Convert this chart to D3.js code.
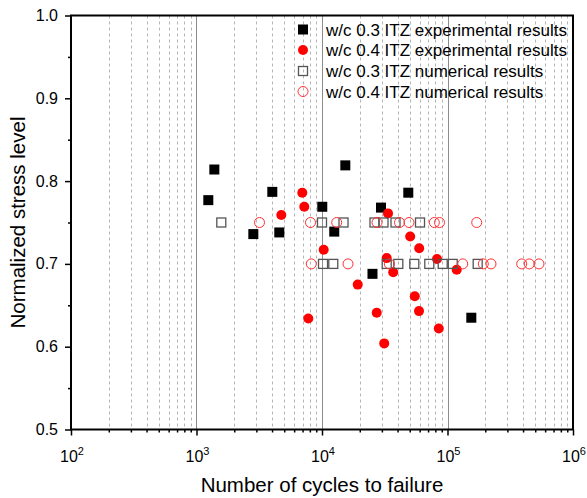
<!DOCTYPE html>
<html>
<head>
<meta charset="utf-8">
<script src="https://cdn.jsdelivr.net/npm/d3@7"></script>
<style>
  body { margin: 0; background: #fff; }
  svg { font-family: Arial, "Liberation Sans", sans-serif; }
</style>
</head>
<body>
<svg id="chart" width="587" height="498"></svg>
<script>
// ---- data ----
const seriesNames = [
  "w/c 0.3 ITZ experimental results",
  "w/c 0.4 ITZ experimental results",
  "w/c 0.3 ITZ numerical results",
  "w/c 0.4 ITZ numerical results"
];
const exp03Cycles = [1242, 1387, 2837, 4018, 4567, 10050, 12520, 15340, 25250, 29520, 48700, 154800];
const exp03Stress = [0.777, 0.814, 0.736, 0.787, 0.738, 0.769, 0.739, 0.819, 0.688, 0.768, 0.786, 0.635];
const exp04Cycles = [4740, 6966, 7227, 7776, 10316, 19260, 27290, 33570, 31310, 32780, 36930, 50440, 54880, 59500, 59290, 82480, 85250, 118400];
const exp04Stress = [0.759, 0.786, 0.769, 0.634, 0.717, 0.675, 0.641, 0.761, 0.604, 0.707, 0.690, 0.733, 0.661, 0.719, 0.643, 0.706, 0.622, 0.693];
const num03Cycles = [1576, 10000, 14840, 26200, 30900, 38520, 60390,
                     10190, 12300, 32780, 40550, 54380, 71610, 91580, 110000, 174000];
const num03Stress = [0.75, 0.75, 0.75, 0.75, 0.75, 0.75, 0.75,
                     0.70, 0.70, 0.70, 0.70, 0.70, 0.70, 0.70, 0.70, 0.70];
const num04Cycles = [3177, 8097, 13100, 27430, 41450, 49340, 78500, 86360, 170900,
                     8215, 16120, 34390, 132200, 192900, 222100, 390100, 448500, 535800];
const num04Stress = [0.75, 0.75, 0.75, 0.75, 0.75, 0.75, 0.75, 0.75, 0.75,
                     0.70, 0.70, 0.70, 0.70, 0.70, 0.70, 0.70, 0.70, 0.70];
const xTickExponents = [2, 3, 4, 5, 6];
const yTickLabels = ["0.5", "0.6", "0.7", "0.8", "0.9", "1.0"];
const xTitle = "Number of cycles to failure";
const yTitle = "Normalized stress level";

// ---- layout ----
const pL = 71, pR = 573, pT = 15.5, pB = 429.5;
const svg = d3.select("#chart");
const x = d3.scaleLog().domain([1e2, 1e6]).range([pL, pR]);
const y = d3.scaleLinear().domain([0.5, 1.0]).range([pB, pT]);

// grid: minor dashed, major solid
const minorVals = [];
for (let e = 2; e < 6; e++) for (let m = 2; m <= 9; m++) minorVals.push(m * Math.pow(10, e));
svg.append("g").selectAll("line").data(minorVals).join("line")
  .attr("x1", d => Math.round(x(d)) + 0.5).attr("x2", d => Math.round(x(d)) + 0.5)
  .attr("y1", pT).attr("y2", pB)
  .attr("stroke", "#b4b4b4").attr("stroke-width", 1).attr("stroke-dasharray", "3,3");
svg.append("g").selectAll("line").data([1e3, 1e4, 1e5]).join("line")
  .attr("x1", d => Math.round(x(d)) + 0.5).attr("x2", d => Math.round(x(d)) + 0.5)
  .attr("y1", pT).attr("y2", pB)
  .attr("stroke", "#8c8c8c").attr("stroke-width", 1);

// axes
const xMajor = d3.axisBottom(x).tickValues(xTickExponents.map(e => Math.pow(10, e))).tickSize(6).tickFormat("");
const xMinor = d3.axisBottom(x).tickValues(minorVals).tickSize(3).tickFormat("");
const gx = svg.append("g").attr("transform", `translate(0,${pB})`);
gx.call(xMajor);
gx.append("g").call(xMinor);
const yMajor = d3.axisLeft(y).tickValues(yTickLabels.map(Number)).tickSize(6).tickFormat("");
const yMinor = d3.axisLeft(y).tickValues([0.55, 0.65, 0.75, 0.85, 0.95]).tickSize(3).tickFormat("");
const gy = svg.append("g").attr("transform", `translate(${pL},0)`);
gy.call(yMajor);
gy.append("g").call(yMinor);
svg.selectAll(".domain").remove();
svg.selectAll(".tick line").attr("stroke", "#000").attr("stroke-width", 1.5);

// tick labels
const xl = svg.append("g");
xTickExponents.forEach(e => {
  const t = xl.append("text").attr("x", x(Math.pow(10, e)) + 1).attr("y", 462)
    .attr("text-anchor", "middle").attr("font-size", 16).attr("fill", "#000");
  t.append("tspan").text("10");
  t.append("tspan").attr("dy", -7).attr("font-size", 11).text(String(e));
});
yTickLabels.forEach(s => {
  svg.append("text").attr("x", 58).attr("y", y(+s) + 5.5)
    .attr("text-anchor", "end").attr("font-size", 16).attr("fill", "#000").text(s);
});

// titles
svg.append("text").attr("x", (pL + pR) / 2).attr("y", 492)
  .attr("text-anchor", "middle").attr("font-size", 20.5).text(xTitle);
svg.append("text").attr("transform", `translate(25,${(pT + pB) / 2}) rotate(-90)`)
  .attr("text-anchor", "middle").attr("font-size", 20.5).text(yTitle);

// markers
const sq = 10, sqH = 9, r = 5;
function blackSquares(g, xs, ys) {
  g.selectAll("rect").data(xs.map((v, i) => [v, ys[i]])).join("rect")
    .attr("x", d => x(d[0]) - sq / 2).attr("y", d => y(d[1]) - sq / 2)
    .attr("width", sq).attr("height", sq).attr("fill", "#000");
}
function redDots(g, xs, ys) {
  g.selectAll("circle").data(xs.map((v, i) => [v, ys[i]])).join("circle")
    .attr("cx", d => x(d[0])).attr("cy", d => y(d[1])).attr("r", r).attr("fill", "#ff0000");
}
function hollowSquares(g, xs, ys) {
  g.selectAll("rect").data(xs.map((v, i) => [v, ys[i]])).join("rect")
    .attr("x", d => x(d[0]) - sqH / 2).attr("y", d => y(d[1]) - sqH / 2)
    .attr("width", sqH).attr("height", sqH).attr("fill", "none")
    .attr("stroke", "#555").attr("stroke-width", 1.3);
}
function hollowCircles(g, xs, ys) {
  g.selectAll("circle").data(xs.map((v, i) => [v, ys[i]])).join("circle")
    .attr("cx", d => x(d[0])).attr("cy", d => y(d[1])).attr("r", r)
    .attr("fill", "none").attr("stroke", "#ff3030").attr("stroke-width", 1);
}
blackSquares(svg.append("g"), exp03Cycles, exp03Stress);
redDots(svg.append("g"), exp04Cycles, exp04Stress);
hollowSquares(svg.append("g"), num03Cycles, num03Stress);
hollowCircles(svg.append("g"), num04Cycles, num04Stress);

// legend
const legY = [29.5, 50, 71, 91.5];
const legX = 303, legTextX = 326;
const lg = svg.append("g");
lg.append("rect").attr("x", legX - sq / 2).attr("y", legY[0] - sq / 2).attr("width", sq).attr("height", sq).attr("fill", "#000");
lg.append("circle").attr("cx", legX).attr("cy", legY[1]).attr("r", r).attr("fill", "#ff0000");
lg.append("rect").attr("x", legX - sqH / 2).attr("y", legY[2] - sqH / 2).attr("width", sqH).attr("height", sqH)
  .attr("fill", "none").attr("stroke", "#555").attr("stroke-width", 1.3);
lg.append("circle").attr("cx", legX).attr("cy", legY[3]).attr("r", r)
  .attr("fill", "none").attr("stroke", "#ff3030").attr("stroke-width", 1);
seriesNames.forEach((s, i) => {
  lg.append("text").attr("x", legTextX).attr("y", legY[i] + 6)
    .attr("font-size", 17).attr("fill", "#000").text(s);
});

// frame
svg.append("rect").attr("x", pL).attr("y", pT).attr("width", pR - pL).attr("height", pB - pT)
  .attr("fill", "none").attr("stroke", "#000").attr("stroke-width", 2);
</script>
</body>
</html>
